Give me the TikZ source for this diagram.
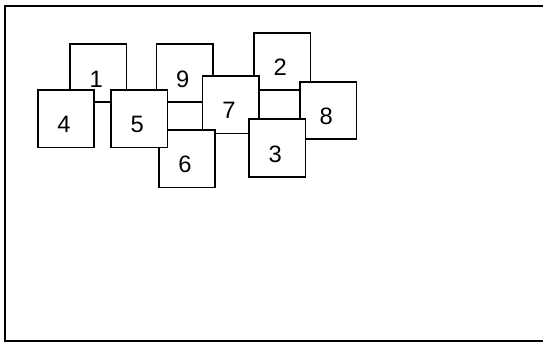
\documentclass[tikz,border=0pt]{standalone}
\usepackage{fontspec}
\setmainfont{Liberation Sans}
\tikzset{
  num/.style={font=\fontsize{13.5}{15}\selectfont, xshift=-0.04cm, yshift=-0.12cm},
  sq/.style={draw, fill=white, line width=0.9pt, inner sep=0pt,
    minimum width=1.13cm, minimum height=1.15cm, label={[num]center:#1}}
}
\begin{document}
\begin{tikzpicture}[x=0.02cm, y=-0.02cm]
    \useasboundingbox (0,0) rectangle (543,343);
    % Frame (open on the right)
    \draw[line width=1.1pt] (543,6) -- (5,6) -- (5,341) -- (543,341);

    % Back squares
    \node[sq=1] (s1) at (98.2,73) {};
    \node[sq=9] (s9) at (184.6,73) {};
    \node[sq=2] (s2) at (282.2,61.5) {};
    \node[sq=7] (s7) at (230.9,104.8) {};
    \node[sq=6] (s6) at (187,158.8) {};
    \node[sq=8] (s8) at (328.3,110.5) {};
    \node[sq=3] (s3) at (277.3,148) {};

    % Front squares
    \node[sq=4] (s4) at (66,118.8) {};
    \node[sq=5] (s5) at (139.2,118.8) {};
\end{tikzpicture}
\end{document}
